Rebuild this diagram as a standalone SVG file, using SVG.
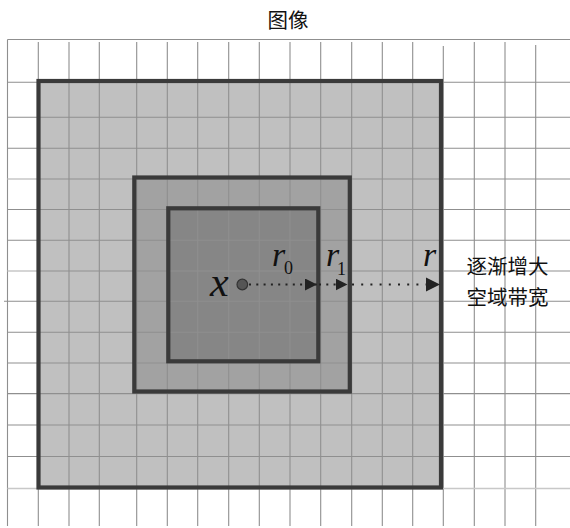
<svg xmlns="http://www.w3.org/2000/svg" width="570" height="528" viewBox="0 0 570 528">
<defs>
<style>
.cjk{font-family:"Noto Sans CJK SC","Noto Sans CJK JP",sans-serif;font-size:20.5px;fill:#111;text-anchor:middle}
.var{font-family:"Liberation Serif","Times New Roman",serif;font-style:italic;fill:#111}
.sub{font-family:"Liberation Serif","Times New Roman",serif;font-size:18px;fill:#111}
.grid{stroke:#8f8f8f;stroke-width:1.1;fill:none}
.gridl{stroke:#c8c8c8;stroke-width:1.3;fill:none}
.box{stroke:#3a3a3a;stroke-width:4.2;fill:none}
.dots{stroke:#222;stroke-width:2;fill:none}
</style>
<marker id="ah" markerUnits="userSpaceOnUse" markerWidth="12" markerHeight="12" viewBox="0 0 10 10" refX="10" refY="5" orient="auto">
<path d="M0,0 L10,5 L0,10 Z" fill="#222"/>
</marker>
<marker id="ahL" markerUnits="userSpaceOnUse" markerWidth="14" markerHeight="15" viewBox="0 0 10 10" refX="10" refY="5" orient="auto">
<path d="M0,0 L10,5 L0,10 Z" fill="#222"/>
</marker>
</defs>
<rect width="570" height="528" fill="#ffffff"/>
<text class="cjk" x="288" y="28">图像</text>

<g id="fills">
<rect x="38.5" y="81" width="402.5" height="406.5" fill="#c0c0c0"/>
<rect x="134.3" y="177.5" width="215.5" height="214" fill="#a2a2a2"/>
<rect x="168.3" y="208.3" width="150" height="153" fill="#868686"/>
</g>

<g id="grid">
<path class="grid" d="M7.5,39.5 H570 M7.5,39.5 V526"/>
<path class="grid" d="M38.3,42 V526 M69,42 V526 M99.3,42 V526 M136.7,42 V526 M167.3,42 V526 M197.7,42 V526 M228.7,42 V526 M259.3,42 V526 M290,42 V526 M320.7,42 V526 M351.7,42 V526 M382.3,42 V526 M412.7,42 V526 M443.3,46 V526 M474.3,42 V526 M505,42 V526 M535.7,45 V526"/>
<path class="grid" d="M7.5,82.3 H570 M7.5,117.3 H570 M7.5,148.3 H570 M38,179 H570 M7.5,209.5 H570 M7.5,240.3 H570 M38,271 H570 M4,301.3 H570 M7.5,332.2 H570 M7.5,363 H570 M7.5,393.6 H570 M7.5,425 H570 M7.5,456.5 H570"/>
<path class="gridl" d="M7.5,179 H38 M7.5,271 H38 M7.5,488.5 H570"/>
</g>

<g id="outer-region"><rect class="box" x="38.5" y="81" width="402.5" height="406.5"/></g>
<g id="middle-region"><rect class="box" x="134.3" y="177.5" width="215.5" height="214"/></g>
<g id="inner-region"><rect class="box" x="168.3" y="208.3" width="150" height="153"/></g>

<g id="connectors">
<line class="dots" x1="249" y1="284.5" x2="317" y2="284.5" stroke-dasharray="2 5.3" marker-end="url(#ah)"/>
<line class="dots" x1="319" y1="284.5" x2="347.5" y2="284.5" stroke-dasharray="2 5.3" marker-end="url(#ah)"/>
<line class="dots" x1="352" y1="284.5" x2="440" y2="284.5" stroke-dasharray="2 7.2" marker-end="url(#ahL)"/>
</g>

<g id="point-x">
<circle cx="242.3" cy="284.5" r="5.3" fill="#555" stroke="#333" stroke-width="1.2"/>
<text class="var" x="210" y="296" font-size="42">x</text>
</g>
<g id="label-r0">
<text class="var" x="272" y="266" font-size="34">r</text>
<text class="sub" x="284" y="273.5">0</text>
</g>
<g id="label-r1">
<text class="var" x="326" y="266" font-size="34">r</text>
<text class="sub" x="337" y="274.5">1</text>
</g>
<g id="label-r">
<text class="var" x="423" y="266" font-size="34">r</text>
</g>
<g id="note">
<text class="cjk" x="507.5" y="273.5">逐渐增大</text>
<text class="cjk" x="507.5" y="304.5">空域带宽</text>
</g>
</svg>
